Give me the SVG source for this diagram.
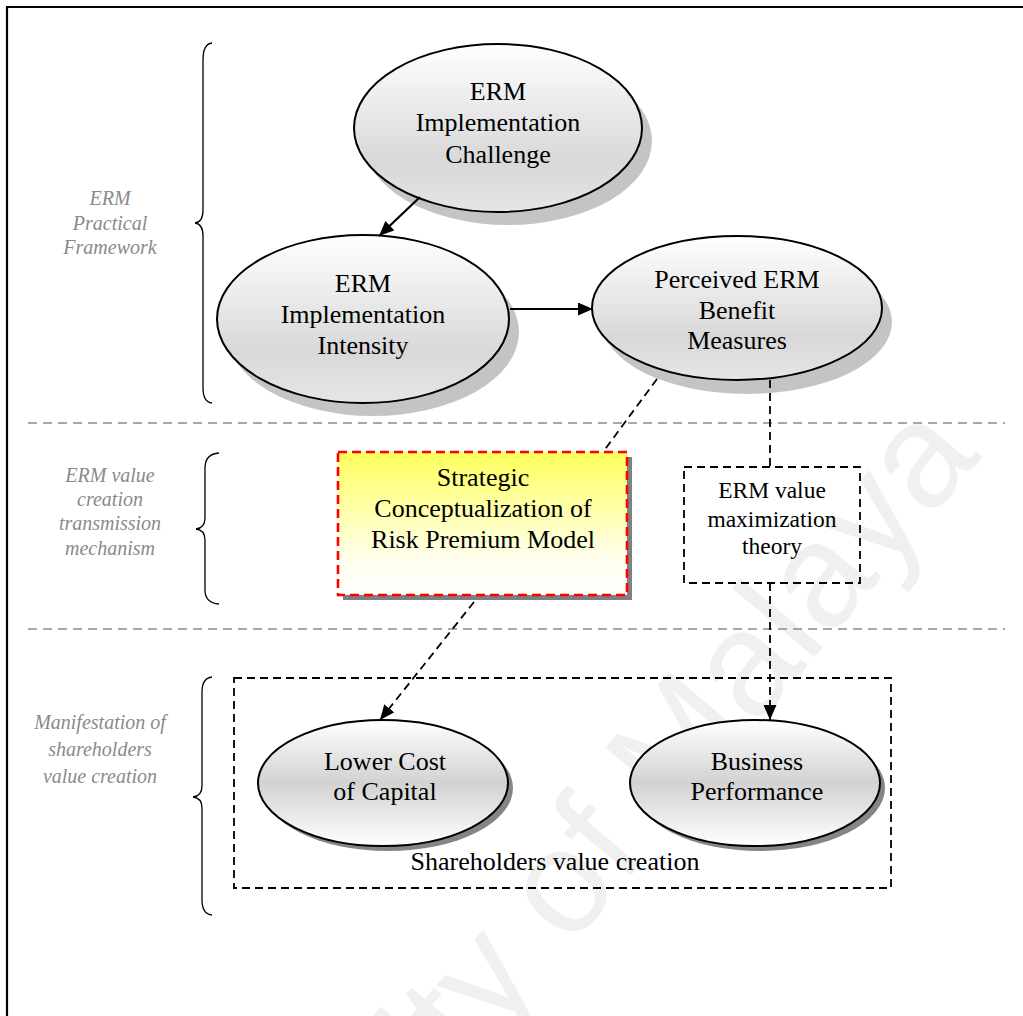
<svg xmlns="http://www.w3.org/2000/svg" width="1023" height="1016" viewBox="0 0 1023 1016">
  <defs>
    <linearGradient id="gTop" x1="0" y1="0" x2="0" y2="1">
      <stop offset="0" stop-color="#ffffff"/>
      <stop offset="0.7" stop-color="#d8d8d8"/>
      <stop offset="1" stop-color="#e6e6e6"/>
    </linearGradient>
    <linearGradient id="gBottom" x1="0" y1="0" x2="0" y2="1">
      <stop offset="0" stop-color="#ffffff"/>
      <stop offset="0.5" stop-color="#d2d2d2"/>
      <stop offset="1" stop-color="#ffffff"/>
    </linearGradient>
    <linearGradient id="gYellow" x1="0" y1="0" x2="0" y2="1">
      <stop offset="0" stop-color="#ffff5c"/>
      <stop offset="0.75" stop-color="#ffffee"/>
      <stop offset="1" stop-color="#ffffff"/>
    </linearGradient>
    <marker id="arrow" markerUnits="userSpaceOnUse" markerWidth="16" markerHeight="14" refX="15" refY="6.5" orient="auto">
      <path d="M0,0 L15,6.5 L0,13 z" fill="#000"/>
    </marker>
    <style>
      .main { font-family: "Liberation Serif", "Times New Roman", serif; font-size: 26px; fill: #000; text-anchor: middle; }
      .small { font-family: "Liberation Serif", "Times New Roman", serif; font-size: 23.5px; fill: #000; text-anchor: middle; }
      .side { font-family: "Liberation Serif", "Times New Roman", serif; font-size: 20px; font-style: italic; fill: #8a8a8a; text-anchor: middle; }
      .node { stroke: #000; stroke-width: 2; }
      .shadowTop { fill: #c4c4c4; }
      .shadowBottom { fill: #858585; }
      .sep { stroke: #8c8c8c; stroke-width: 1.6; stroke-dasharray: 9 6; fill: none; }
      .brace { stroke: #000; stroke-width: 1.3; fill: none; }
      .solid { stroke: #000; stroke-width: 2.2; fill: none; }
      .dash { stroke: #000; stroke-width: 1.8; stroke-dasharray: 8 5; fill: none; }
      .watermark { font-family: "Liberation Sans", Arial, sans-serif; font-size: 148px; fill: #f0f0f0; }
    </style>
  </defs>

  <rect width="1023" height="1016" fill="#ffffff"/>

  <!-- faint background lettering -->
  <text class="watermark" transform="translate(554,967) rotate(-50)" text-anchor="middle">University of Malaya</text>

  <!-- page frame -->
  <path d="M7,1016 L7,7 L1023,7" stroke="#000" stroke-width="2.2" fill="none"/>

  <!-- section separators -->
  <g id="separators">
    <line class="sep" x1="28" y1="423" x2="1005" y2="423"/>
    <line class="sep" x1="28" y1="629" x2="1005" y2="629"/>
  </g>

  <!-- section braces and labels -->
  <g id="section-practical">
    <path class="brace" d="M212,43 Q203,44 203,60 L203,210 Q203,222 195,223 Q203,224 203,236 L203,388 Q203,402 212,403"/>
    <text class="side" x="110" y="205">ERM</text>
    <text class="side" x="110" y="230">Practical</text>
    <text class="side" x="110" y="254">Framework</text>
  </g>
  <g id="section-transmission">
    <path class="brace" d="M219,453 Q205,454 205,468 L205,518 Q205,528 196,529 Q205,530 205,540 L205,590 Q205,603 219,604"/>
    <text class="side" x="110" y="482">ERM value</text>
    <text class="side" x="110" y="506">creation</text>
    <text class="side" x="110" y="530">transmission</text>
    <text class="side" x="110" y="555">mechanism</text>
  </g>
  <g id="section-manifestation">
    <path class="brace" d="M212,677 Q202,678 202,692 L202,786 Q202,796 193,797 Q202,798 202,808 L202,900 Q202,914 212,915"/>
    <text class="side" x="100" y="729">Manifestation of</text>
    <text class="side" x="100" y="756">shareholders</text>
    <text class="side" x="100" y="783">value creation</text>
  </g>

  <!-- nodes -->
  <g id="node-challenge">
    <ellipse class="shadowTop" cx="508" cy="141" rx="144" ry="84"/>
    <ellipse class="node" cx="498" cy="128" rx="144" ry="84" fill="url(#gTop)"/>
    <text class="main" x="498" y="100">ERM</text>
    <text class="main" x="498" y="131">Implementation</text>
    <text class="main" x="498" y="163">Challenge</text>
  </g>

  <g id="node-intensity">
    <ellipse class="shadowTop" cx="373" cy="332" rx="146" ry="84"/>
    <ellipse class="node" cx="363" cy="319" rx="146" ry="84" fill="url(#gTop)"/>
    <text class="main" x="363" y="292">ERM</text>
    <text class="main" x="363" y="323">Implementation</text>
    <text class="main" x="363" y="354">Intensity</text>
  </g>

  <g id="node-benefit">
    <ellipse class="shadowTop" cx="747" cy="322" rx="145" ry="72"/>
    <ellipse class="node" cx="737" cy="308" rx="145" ry="72" fill="url(#gTop)"/>
    <text class="main" x="737" y="288">Perceived ERM</text>
    <text class="main" x="737" y="319">Benefit</text>
    <text class="main" x="737" y="349">Measures</text>
  </g>

  <g id="node-strategic">
    <rect x="343" y="457" width="289" height="143" fill="#808080"/>
    <rect x="338" y="452" width="289" height="143" fill="url(#gYellow)" stroke="#ff0000" stroke-width="2.6" stroke-dasharray="9 5"/>
    <text class="main" x="483" y="486">Strategic</text>
    <text class="main" x="483" y="517">Conceptualization of</text>
    <text class="main" x="483" y="548">Risk Premium Model</text>
  </g>

  <g id="node-theory">
    <rect x="684" y="467" width="176" height="116" fill="none" class="dash"/>
    <text class="small" x="772" y="498">ERM value</text>
    <text class="small" x="772" y="527">maximization</text>
    <text class="small" x="772" y="554">theory</text>
  </g>

  <g id="node-shareholders">
    <rect x="234" y="678" width="657" height="210" class="dash"/>
    <text class="main" x="555" y="870">Shareholders value creation</text>
  </g>

  <g id="node-capital">
    <ellipse class="shadowBottom" cx="388" cy="788" rx="125" ry="63"/>
    <ellipse class="node" cx="383" cy="783" rx="125" ry="63" fill="url(#gBottom)"/>
    <text class="main" x="385" y="770">Lower Cost</text>
    <text class="main" x="385" y="800">of Capital</text>
  </g>

  <g id="node-performance">
    <ellipse class="shadowBottom" cx="760" cy="788" rx="125" ry="63"/>
    <ellipse class="node" cx="755" cy="783" rx="125" ry="63" fill="url(#gBottom)"/>
    <text class="main" x="757" y="770">Business</text>
    <text class="main" x="757" y="800">Performance</text>
  </g>

  <!-- connectors -->
  <g id="connectors">
    <line class="solid" x1="420" y1="197" x2="379" y2="236" marker-end="url(#arrow)"/>
    <line class="solid" x1="510" y1="309" x2="593" y2="309" marker-end="url(#arrow)"/>
    <line class="dash" x1="657" y1="379" x2="603" y2="452"/>
    <line class="dash" x1="474" y1="602" x2="380" y2="720" marker-end="url(#arrow)"/>
    <line class="dash" x1="770" y1="380" x2="770" y2="467"/>
    <line class="dash" x1="770" y1="583" x2="770" y2="720" marker-end="url(#arrow)"/>
  </g>
</svg>
